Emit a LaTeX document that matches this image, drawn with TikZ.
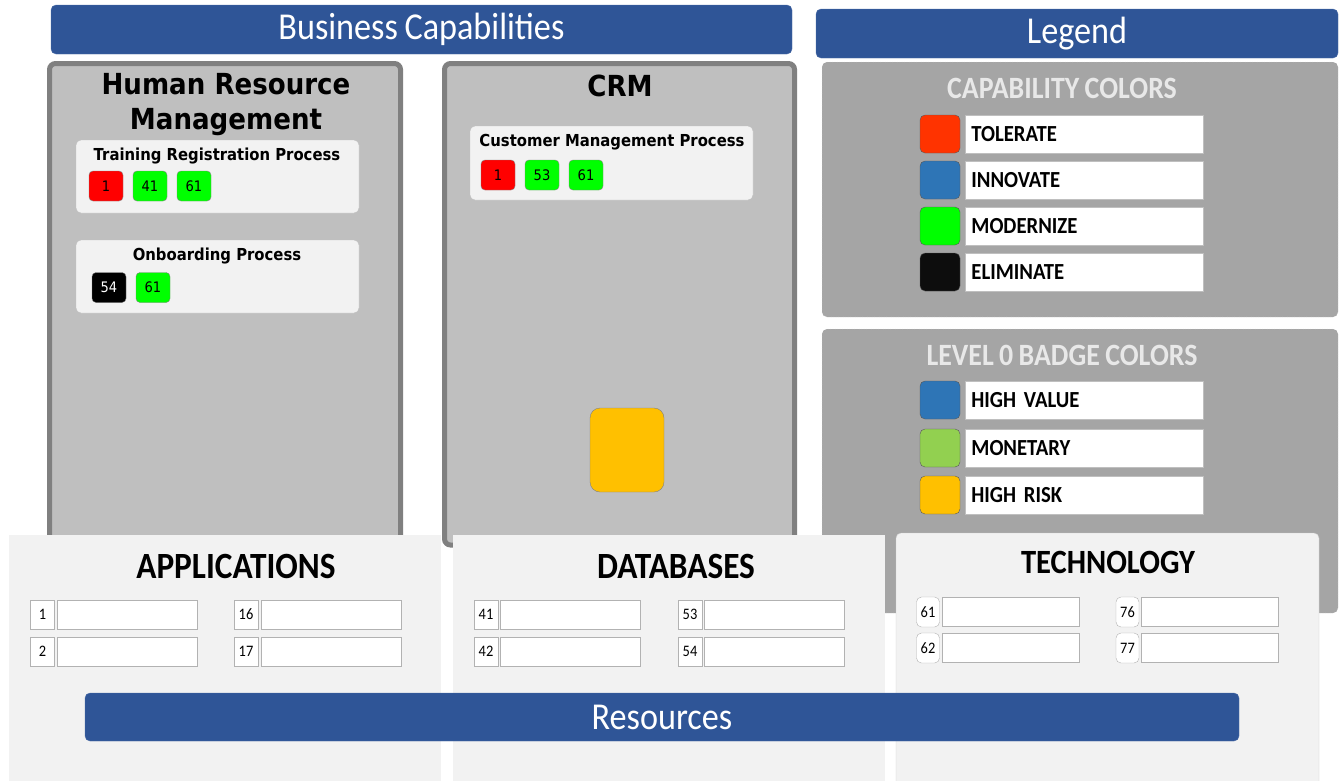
\documentclass[tikz,border=0pt]{standalone}
\usepackage{fontspec}
\setmainfont{Carlito}[FakeStretch=0.9,WordSpace=0.85]
\newfontfamily\verdfont{DejaVu Sans}[FakeStretch=0.9]
\usetikzlibrary{positioning}
\definecolor{bannerblue}{HTML}{2F5597}
\definecolor{capgray}{HTML}{BFBFBF}
\definecolor{capedge}{HTML}{808080}
\definecolor{procfill}{HTML}{F2F2F2}
\definecolor{legfill}{HTML}{A5A5A5}
\definecolor{legtext}{HTML}{E8E8E8}
\definecolor{tolred}{HTML}{FF3300}
\definecolor{innblue}{HTML}{2E75B6}
\definecolor{modgreen}{HTML}{00FF00}
\definecolor{elimblack}{HTML}{0D0D0D}
\definecolor{moneygreen}{HTML}{92D050}
\definecolor{riskyellow}{HTML}{FFC000}
\newcommand{\setfs}[1]{\fontsize{#1}{#1}\selectfont}
\begin{document}
\begin{tikzpicture}[x=1pt,y=-1pt,
  banner/.style={fill=bannerblue, draw=bannerblue!85!white, rounded corners=5pt,
    text=white, font=\setfs{38}, inner sep=0pt},
  capbox/.style={fill=capgray, draw=capedge, line width=5pt, rounded corners=6pt},
  captitle/.style={font=\verdfont\bfseries\setfs{29}, align=center},
  procbox/.style={fill=procfill, draw=capgray, rounded corners=5pt},
  proctitle/.style={font=\verdfont\bfseries\setfs{16.5}},
  badge/.style={draw=gray, rounded corners=4pt, minimum width=34pt, minimum height=30pt,
    inner sep=0pt, font=\verdfont\setfs{14.5}},
  legpanel/.style={fill=legfill, draw=gray!30, dotted, rounded corners=5pt},
  legtitle/.style={text=legtext, font=\bfseries\setfs{31}},
  swatch/.style={draw=gray!70!black, rounded corners=5pt, minimum width=40pt,
    minimum height=38pt, inner sep=0pt},
  leglabel/.style={fill=white, draw=gray!50, minimum height=38pt, text width=226pt,
    inner xsep=6pt, align=left, font=\bfseries\setfs{23}},
  respanel/.style={fill=procfill},
  restitle/.style={font=\bfseries\setfs{37}},
  numbox/.style={fill=white, draw=gray!60, minimum width=24pt, minimum height=29pt,
    inner sep=0pt, font=\setfs{16}},
  fieldbox/.style={fill=white, draw=gray!60, minimum width=140pt, minimum height=29pt,
    inner sep=0pt}]
\useasboundingbox (0,0) rectangle (1344,780);

% banners at the top
\node[banner, minimum width=741pt, minimum height=49pt] (bcap) at (421.5,29.5) {Business Capabilities};
\node[banner, minimum width=522pt, minimum height=49pt] (legend) at (1077,33.5) {Legend};

% capabilities
\draw[capbox] (49.5,63.5) rectangle (400.5,545);
\draw[capbox] (444.5,63.5) rectangle (794.5,545);
\node[captitle, font=\verdfont\bfseries\fontsize{29}{35}\selectfont] (hrm) at (226,105) {Human Resource\\Management};
\node[captitle] (crm) at (620,86) {CRM};

\draw[procbox] (76,140) rectangle (359,213);
\node[proctitle] (trp) at (217,156) {Training Registration Process};
\foreach \n/\col [count=\i] in {1/red,41/modgreen,61/modgreen}
  \node[badge, fill=\col] (trp\i) at ({106+44*(\i-1)},186) {\n};

\draw[procbox] (76,240) rectangle (359,313);
\node[proctitle] (onb) at (217,256) {Onboarding Process};
\node[badge, fill=black, text=white] (onb1) at (109,287.5) {54};
\node[badge, fill=modgreen] (onb2) at (153,287.5) {61};

\draw[procbox] (470,126) rectangle (753,200);
\node[proctitle] (cmp) at (612,142) {Customer Management Process};
\foreach \n/\col [count=\i] in {1/red,53/modgreen,61/modgreen}
  \node[badge, fill=\col] (cmp\i) at ({498+44*(\i-1)},175) {\n};

\draw[fill=riskyellow, draw=gray, rounded corners=10pt] (590,408) rectangle (664,492);

% legend
\draw[legpanel] (822,62) rectangle (1338,317);
\node[legtitle] (capcol) at (1062,88) {CAPABILITY COLORS};
\foreach \lab/\col [count=\i] in {TOLERATE/tolred,INNOVATE/innblue,MODERNIZE/modgreen,ELIMINATE/elimblack}{
  \node[swatch, fill=\col] (cs\i) at (940,{134+46*(\i-1)}) {};
  \node[leglabel, right=5pt of cs\i] (cl\i) {\lab};
}

\draw[legpanel] (822,329) rectangle (1338,613);
\node[legtitle] (badgecol) at (1062,355) {LEVEL 0 BADGE COLORS};
\foreach \lab/\col/\y [count=\i] in {HIGH VALUE/innblue/400,MONETARY/moneygreen/448,HIGH RISK/riskyellow/495}{
  \node[swatch, fill=\col] (bs\i) at (940,\y) {};
  \node[leglabel, right=5pt of bs\i] (bl\i) {\lab};
}

% resources
\fill[respanel] (9,535) rectangle (441,790);
\node[restitle] (apps) at (236,566) {APPLICATIONS};
\foreach \num/\x/\y in {1/42.5/614.5,2/42.5/651.5,16/246/614.5,17/246/651.5}{
  \node[numbox] (app\num) at (\x,\y) {\num};
  \node[fieldbox, right=2.5pt of app\num] (appf\num) {};
}

\fill[respanel] (453,535) rectangle (885,790);
\node[restitle] (dbs) at (676,566) {DATABASES};
\foreach \num/\x/\y in {41/486/614.5,42/486/651.5,53/690/614.5,54/690/651.5}{
  \node[numbox] (db\num) at (\x,\y) {\num};
  \node[fieldbox, right=2pt of db\num] (dbf\num) {};
}

\draw[respanel, draw=gray!40, rounded corners=5pt] (896,533) rectangle (1319,800);
\node[restitle, font=\bfseries\setfs{34}] (tech) at (1108,562) {TECHNOLOGY};
\foreach \num/\x/\y in {61/928/612,62/928/648,76/1127.5/612,77/1127.5/648}{
  \node[numbox, rounded corners=5pt, minimum width=23pt, minimum height=30pt] (tc\num) at (\x,\y) {\num};
  \node[fieldbox, minimum width=137pt, right=2pt of tc\num] (tcf\num) {};
}

\node[banner, minimum width=1154pt, minimum height=48pt] (res) at (662,717) {Resources};
\end{tikzpicture}
\end{document}
